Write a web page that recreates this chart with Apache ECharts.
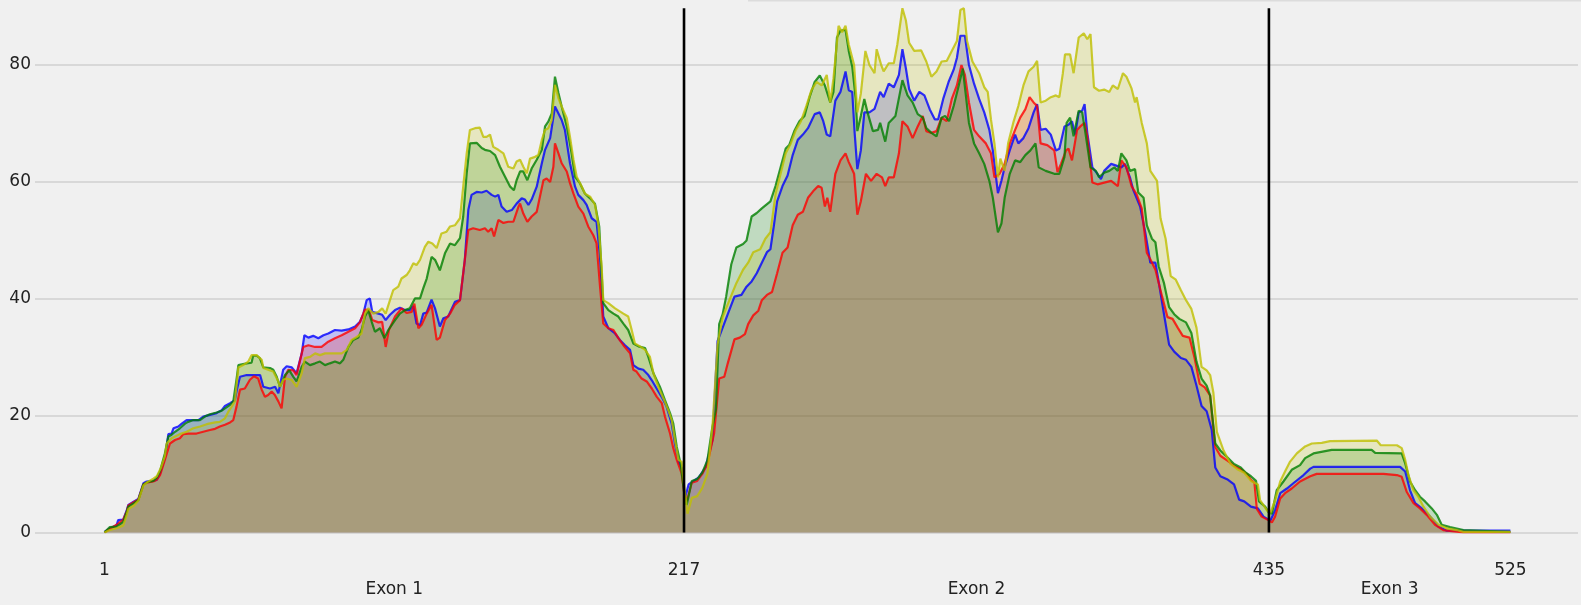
<!DOCTYPE html>
<html>
<head>
<meta charset="utf-8">
<script src="https://cdn.jsdelivr.net/npm/echarts@6/dist/echarts.min.js"></script>
<style>
html,body{margin:0;padding:0;background:#f0f0f0;}
#chart{width:1581px;height:605px;}
</style>
</head>
<body>
<div id="chart"></div>
<script>
// ---- data (position along transcript, coverage) ----
const positionTicks = [1, 217, 435, 525];
const yTicks = [0, 20, 40, 60, 80];
const exonLabels = ['Exon 1', 'Exon 2', 'Exon 3'];
const exonCenters = [109, 326, 480];
const exonBoundaries = [217, 435];
const boundaryTop = 89.6;

const blue = [[1,0.1],[3,0.7],[5.5,1.2],[6.1,2.1],[8,2.2],[9.3,3.8],[9.9,4.7],[11.7,5.2],[13.6,5.7],[15.5,8.4],[16.7,8.7],[19.2,8.8],[20.5,9.0],[21.7,10.1],[23.6,12.9],[24.8,16.8],[26,16.9],[26.7,17.8],[28.5,18.1],[29.8,18.6],[31.6,19.2],[34.1,19.2],[36,19.2],[37.8,19.8],[40.3,20.1],[42.8,20.4],[44.7,20.9],[45.9,21.6],[47.8,22.1],[49.6,22.6],[50.3,24.3],[51.5,26.6],[54,26.9],[56.5,26.9],[59,26.9],[60.2,24.9],[62.7,24.6],[64.6,24.9],[65.8,23.8],[66.4,23.5],[67.6,27.8],[68.9,28.4],[70.8,28.2],[72.6,27.2],[73.2,26.9],[74.5,30.6],[75.5,33.7],[77,33.3],[78.8,33.6],[80.7,33.2],[82.6,33.7],[84.4,34.0],[86.9,34.6],[89.4,34.5],[91.9,34.7],[94.4,35.2],[96.2,36.0],[97.5,37.4],[98.7,39.7],[99.9,40.0],[100.8,37.7],[103.1,37.4],[104.5,37.2],[105.8,36.3],[107.4,37.2],[109.3,38.0],[111.1,38.4],[113,38.0],[114.8,38.0],[116.1,38.7],[117.3,35.7],[118.6,35.4],[119.8,37.4],[121.1,37.6],[122.9,39.8],[124.2,38.3],[126,35.2],[127.3,36.6],[129.1,36.9],[131.6,39.4],[133.5,39.7],[135.3,46.6],[136.6,55.1],[137.8,57.7],[139.7,58.2],[141.6,58.1],[143.4,58.4],[145.3,57.7],[146.6,57.4],[147.8,57.7],[149,55.7],[150.9,54.8],[152.8,55.1],[154.6,56.2],[156.5,57.1],[157.7,56.9],[159,56.0],[160.2,56.9],[162.1,59.1],[164,63.1],[165.2,65.4],[167.1,67.4],[167.7,67.6],[168.9,72.8],[170.2,71.6],[171.4,70.5],[172.6,68.8],[174.5,63.1],[176.4,59.1],[177.6,57.7],[179.5,56.8],[180.7,56.0],[182.6,53.7],[184.4,53.1],[185.7,47.1],[186.9,36.9],[188.8,34.9],[191.3,34.0],[193.1,32.9],[195,32.0],[196.9,31.2],[198.1,28.6],[200,28.0],[201.8,27.8],[203.7,26.9],[205,26.0],[206.8,24.6],[209,22.9],[210.5,21.5],[212.4,18.6],[213.6,15.2],[214.9,12.1],[216.5,10.7],[217,7.5],[217.4,5.9],[218.7,8.2],[220.6,8.8],[222.5,9.4],[225,11.1],[227.6,15.8],[229.5,32.7],[231.4,35.0],[233.3,37.3],[235.8,40.3],[238.4,40.6],[240.3,42.0],[242.2,42.9],[244.1,44.3],[246,46.1],[247.9,47.9],[249.2,48.4],[250.5,52.5],[251.7,56.6],[253.7,59.2],[255.6,61.0],[257.5,64.5],[259.4,67.1],[261.3,68.0],[263.2,69.1],[265.7,71.5],[267.6,71.8],[268.9,70.3],[270.2,68.0],[271.5,67.7],[273.4,73.8],[275.3,75.3],[277.2,78.8],[278.4,75.6],[279.7,75.3],[280.6,68.3],[281.6,62.1],[282.9,65.3],[284.2,71.8],[286.1,71.8],[288,72.4],[290.1,75.3],[291.4,74.4],[293.3,76.7],[295.2,76.1],[297.1,78.2],[298.4,82.6],[299.7,79.3],[300.9,75.8],[302.8,73.8],[304.7,75.3],[306.6,74.7],[308.6,72.3],[310.5,70.6],[311.7,70.6],[313.6,74.1],[315.6,77.0],[317.5,79.1],[318.7,81.1],[320,84.9],[321.7,84.9],[323.2,79.9],[325.1,76.7],[327,74.1],[328.9,71.8],[330.8,68.8],[332.1,65.3],[334,58.0],[335.3,60.1],[336.5,62.4],[338.4,65.3],[340.4,68.0],[341.6,66.5],[343.5,67.4],[345.4,69.1],[347.3,71.8],[348.6,73.2],[349.9,68.8],[351.8,69.0],[353.7,68.0],[355.6,65.3],[356.9,65.6],[358.8,69.4],[360.3,69.7],[361.6,70.3],[362.8,68.0],[364.1,71.8],[365.4,72.1],[366.3,73.2],[367.3,68.3],[369.2,62.4],[371.1,61.3],[372.4,60.4],[373.6,61.8],[376.2,63.0],[378.1,62.7],[380,62.4],[381.3,63.0],[383.2,60.7],[384.4,58.6],[387,55.7],[388.9,51.3],[390.8,46.1],[392.7,46.1],[394,42.6],[395.9,37.3],[397.8,32.1],[399.7,30.9],[402.2,29.8],[404.1,29.5],[406.1,28.3],[408,25.1],[409.9,21.6],[411.8,20.7],[413.7,17.5],[415,11.1],[416.9,9.6],[419.4,9.1],[422,8.2],[423.9,5.6],[425.8,5.3],[428.3,4.4],[430.9,4.1],[433,2.7],[435.5,2.0],[437.3,3.8],[439.2,6.7],[441.7,7.5],[444.1,8.4],[447.9,9.8],[450.4,10.9],[451.6,11.2],[483.9,11.2],[485.8,10.4],[487.6,7.2],[489.5,5.0],[492,4.1],[495.1,2.7],[498.2,1.0],[501.3,0.3],[525,0.3]];

const red = [[1,0],[3,0.6],[5.5,1.3],[6.1,1.6],[8,2.2],[9.3,3.6],[9.9,4.6],[11.7,5.1],[13.6,5.6],[15.5,8.2],[16.7,8.5],[19.2,8.7],[20.5,9.0],[21.7,9.8],[23.5,12.4],[25.4,15.2],[27.3,15.8],[29.1,16.1],[30.4,16.8],[32.2,16.9],[35.3,16.9],[37.8,17.2],[40.3,17.5],[42.2,17.7],[44,18.1],[45.9,18.4],[47.8,18.8],[49,19.2],[50.2,21.5],[51.5,24.4],[53.3,24.6],[55.2,26.1],[56.7,26.7],[58.3,26.3],[59.6,24.4],[60.8,23.2],[62,23.5],[63.3,24.1],[64.5,23.5],[65.8,22.4],[67,21.2],[68.3,26.6],[69.5,27.8],[71.4,27.7],[72.6,26.9],[73.2,26.6],[75.1,31.7],[77,32.0],[79.5,31.7],[81.9,31.7],[84.4,32.6],[86.9,33.2],[89.4,33.7],[91.9,34.3],[94.4,34.9],[96.2,35.9],[98.1,38.1],[99.6,38.0],[100.8,36.3],[103.1,35.9],[104.5,36.0],[105.8,31.7],[107,34.6],[109.3,36.9],[111.7,38.3],[113.6,37.5],[115.5,37.7],[116.5,39.1],[118,34.9],[119.2,35.5],[121.1,37.4],[122.9,38.9],[124.8,32.9],[126,33.3],[127.9,36.3],[129.8,37.4],[131.6,38.9],[133.5,39.7],[135.3,46.6],[136.6,51.7],[138.4,52.0],[140.9,51.7],[142.8,52.0],[144,51.4],[145.3,52.0],[146.2,50.6],[147.8,53.4],[149.7,52.9],[151.5,53.1],[153.4,53.1],[155.3,55.7],[155.9,56.2],[157.1,54.5],[158.6,53.1],[160.2,54.0],[162.1,54.8],[164.6,60.2],[165.8,60.5],[167.1,59.9],[168.3,62.5],[168.9,66.5],[170.2,64.8],[171.4,63.1],[173.3,61.7],[174.5,59.7],[175.8,57.9],[177.6,55.7],[179.5,54.5],[181.3,52.3],[183.2,50.8],[184.4,49.4],[185.7,42.0],[186.9,35.7],[188.8,34.9],[190.7,34.6],[192.5,33.2],[194.4,32.0],[196.9,30.6],[198.1,27.8],[199.3,27.5],[201.2,26.3],[203.1,25.8],[205,24.6],[206.8,23.2],[208.7,22.1],[209.9,19.8],[211.8,16.9],[213,14.4],[214.3,12.4],[216.1,10.1],[217,7.0],[218,5.3],[219.9,8.5],[221.9,8.8],[223.8,10.0],[225.7,11.7],[228.2,16.9],[230.1,26.3],[232,26.6],[233.3,28.9],[235.8,33.0],[237.8,33.3],[239.7,33.9],[240.9,35.6],[242.8,37.1],[244.7,37.9],[246,39.7],[247.9,40.6],[249.8,41.1],[251.7,44.3],[253.7,47.8],[255.6,48.7],[257.5,52.5],[259.4,54.3],[261.3,54.8],[263.2,57.2],[265.1,58.3],[267,59.2],[268.3,58.9],[269.5,55.7],[270.4,57.2],[271.5,54.8],[273.4,61.3],[275.3,63.6],[277.2,64.8],[278.4,63.3],[280.4,61.3],[281.6,54.3],[282.9,56.6],[284.8,61.3],[286.7,60.1],[288.8,61.3],[290.8,60.7],[292,59.2],[293.3,60.7],[295.2,60.7],[297.1,64.8],[298.4,70.3],[300.3,69.4],[302.2,67.4],[304.1,69.4],[306,71.2],[307.3,68.6],[309.2,68.3],[311.1,68.6],[313,70.9],[314.9,70.3],[316.8,74.1],[318.7,76.4],[320.4,79.9],[321.7,78.2],[323.2,73.5],[325.1,68.8],[327,67.7],[329.5,66.5],[331.4,64.8],[332.7,60.7],[334.6,61.3],[336.5,63.0],[338.4,66.5],[340.4,68.8],[342.3,70.9],[344.2,72.3],[345.8,74.4],[347.3,73.5],[348.6,72.9],[349.9,66.5],[352.4,66.2],[355,65.3],[356.2,61.6],[357.5,63.0],[359.4,65.3],[360.3,65.6],[361.6,63.6],[363.5,68.8],[364.7,69.4],[366.3,70.0],[367.3,67.7],[369.2,59.8],[371.1,59.5],[373.6,59.8],[376.2,60.1],[378.7,59.2],[380,63.6],[381.9,62.4],[383.8,59.2],[385.7,57.8],[387.6,55.4],[389.5,47.8],[390.8,46.7],[392.7,44.9],[395.2,40.3],[397.2,36.8],[399.1,36.5],[401,35.0],[402.9,33.6],[405.4,33.3],[407.3,29.8],[409.2,25.4],[411.1,24.8],[413.1,23.4],[415,14.6],[416.9,13.1],[419.4,12.3],[422,11.4],[424.5,10.8],[427,9.9],[428.3,9.0],[429.6,8.5],[430.5,4.0],[432.3,2.7],[434.8,2.1],[436.1,1.7],[437.3,2.7],[439.2,5.8],[441,6.7],[443.5,7.5],[446.6,8.7],[450.4,9.6],[452.8,10.0],[477.7,10.0],[482.7,9.8],[484.5,9.5],[486.4,6.9],[488.9,5.0],[491.3,4.1],[493.8,3.0],[496.9,1.3],[500,0.4],[507.5,0.0],[525,0.0]];

const green = [[1,0],[3,0.9],[5.5,1.0],[8,1.8],[9.3,3.5],[9.9,4.4],[12,5.0],[13.6,5.5],[15.5,8.2],[17,8.6],[19.2,8.8],[20.5,9.4],[21.7,10.5],[23.5,13.5],[24.8,16.4],[26,16.7],[27.3,17.2],[29.1,17.8],[31,18.6],[32.2,18.9],[34.1,19.2],[36.6,19.2],[38.4,19.8],[40.3,20.2],[42.8,20.5],[44.7,20.8],[45.9,21.2],[47.8,21.8],[49,22.4],[50.2,26.1],[50.9,28.6],[54,28.9],[55.8,29.0],[56.4,30.2],[57.7,30.2],[58.9,29.8],[60.2,28.2],[62.7,28.1],[63.9,27.8],[65.2,26.6],[66.4,24.9],[67,25.5],[68.3,26.9],[69.9,27.7],[71.4,26.6],[72.6,25.8],[73.2,25.5],[74.5,28.3],[75.7,29.2],[77.6,28.6],[79.5,28.9],[81.3,29.2],[83.2,28.6],[85,28.9],[86.9,29.2],[88.8,28.9],[90,29.5],[91.9,31.7],[93.7,32.9],[95.6,33.3],[96.8,34.6],[98.1,36.9],[99.3,38.0],[100.6,36.0],[101.8,34.3],[103.7,34.9],[105.3,33.2],[106.8,34.6],[109.3,36.3],[111.1,37.4],[113,38.0],[114.8,38.3],[116.7,40.0],[118.6,40.0],[119.8,41.7],[121.1,43.4],[122.9,47.1],[124.2,46.6],[126,44.8],[127.9,47.7],[129.8,49.4],[131.6,49.1],[133.5,50.3],[134.7,54.0],[136,61.4],[137.2,66.5],[139.7,66.6],[141.6,65.7],[142.8,65.4],[144.7,65.2],[146.6,64.5],[148.4,62.5],[150.3,60.8],[152.2,59.1],[153.6,58.5],[154.6,60.2],[155.9,61.7],[157.1,61.7],[158.6,60.2],[160.2,62.2],[162.1,63.7],[164,65.4],[165.2,69.4],[166.4,70.2],[167.7,71.6],[168.9,77.9],[170.2,75.1],[171.4,72.8],[173.3,69.4],[175.1,64.8],[176.4,60.8],[178.2,59.7],[180.1,57.9],[182,57.1],[183.8,56.2],[185.4,52.3],[186.3,44.3],[186.9,39.2],[188.8,38.0],[190.7,37.4],[192.5,36.9],[194.4,35.7],[196.2,34.6],[198.1,32.3],[200,31.8],[202.5,31.5],[203.7,30.0],[205.6,27.2],[208,24.9],[209.9,22.6],[211.8,20.4],[213,18.6],[214.3,14.6],[215.7,11.8],[217,7.0],[218,4.7],[219.9,8.8],[221.9,9.1],[223.8,10.2],[225.7,12.3],[227.6,18.1],[228.9,21.0],[230.1,35.6],[231.4,37.3],[232.7,40.3],[234.6,45.8],[236.5,48.7],[239,49.3],[240.3,49.9],[242.2,54.0],[244.1,54.6],[246,55.4],[249.2,56.6],[251.1,59.2],[253,62.4],[254.9,65.6],[256.2,66.2],[258.1,68.6],[260,70.3],[261.9,71.2],[263.8,74.4],[265.7,77.0],[267.6,78.1],[269.5,76.4],[271.5,73.5],[272.7,75.3],[274,84.6],[275.3,85.8],[277.2,85.9],[278.4,82.3],[279.7,79.6],[281,74.1],[281.6,68.6],[282.9,71.2],[284.2,74.1],[285.4,71.8],[287.4,68.6],[289.3,68.8],[290.1,70.0],[292,66.8],[293.3,70.0],[295.8,71.2],[298.4,77.3],[300.3,74.7],[302.2,73.5],[304.1,71.5],[306,70.9],[307.3,69.1],[309.2,68.3],[311.1,67.7],[313,70.9],[314.3,71.2],[315.8,70.3],[317.5,72.9],[319.4,76.4],[320.9,79.3],[321.9,75.3],[323.2,70.0],[325.1,66.5],[327,64.8],[328.9,63.0],[330.8,60.1],[332.1,57.2],[334,51.3],[335.3,52.8],[336.5,57.2],[338.4,61.3],[340.4,63.6],[342.3,63.3],[344.2,64.5],[346.1,65.3],[348,66.5],[349.2,62.4],[351.8,61.8],[355,61.3],[356.9,61.3],[358.8,64.2],[359.6,70.0],[360.9,70.9],[362.2,67.7],[364.1,72.1],[365.4,71.8],[366.6,68.3],[368.5,62.4],[370.5,61.8],[371.7,60.7],[373.6,61.5],[375.5,61.8],[377.4,62.4],[378.7,61.8],[380,64.8],[381.9,63.6],[383.2,61.8],[385.1,62.1],[386.3,58.1],[388.3,57.2],[389.5,52.5],[391.4,50.2],[392.7,49.6],[393.9,45.5],[395.9,42.6],[397.8,38.5],[399.7,37.3],[401.6,36.5],[404.1,35.9],[406.1,34.1],[408,29.2],[409.9,26.3],[411.8,25.1],[413.1,23.4],[415,15.2],[416.9,14.0],[419.4,12.9],[422,11.7],[424.5,11.1],[426.4,10.2],[428.3,9.6],[430.2,8.8],[431.3,5.3],[433.6,4.4],[434.8,3.5],[436.1,3.2],[437.9,7.2],[440.4,8.7],[443.5,10.7],[446.6,11.5],[448.5,12.7],[451.6,13.5],[458.4,14.1],[473.3,14.1],[474.6,13.6],[484.5,13.5],[485.8,11.8],[487.6,8.7],[489.5,7.2],[491.3,6.1],[493.2,5.3],[495.7,4.1],[497.6,3.0],[499.4,1.3],[502.5,0.9],[507.5,0.4],[525,0.1]];

const yellow = [[1,0],[3,0.4],[5.5,0.7],[8,1.2],[9.3,3.0],[9.9,4.0],[12,4.6],[13.6,5.4],[15.5,8.0],[17,8.6],[19.2,9.2],[20.5,9.6],[22,11.0],[23.5,13.0],[24.2,15.2],[26,16.1],[29.1,16.8],[31.6,17.2],[34.1,17.8],[36.6,18.1],[39.1,18.5],[42.2,18.8],[44,18.9],[45.9,19.5],[47.1,20.6],[48.4,21.5],[49.6,22.4],[50.9,28.2],[52.7,28.6],[54.6,29.2],[55.8,30.3],[57.7,30.3],[59.6,29.5],[60.2,28.1],[62.7,27.7],[63.9,27.5],[65.8,25.8],[66.4,24.9],[67.6,26.1],[68.9,26.3],[70.7,26.1],[72.6,24.9],[73.2,24.6],[74.5,27.2],[75.7,29.8],[77.6,30.0],[79.5,30.6],[81.3,30.3],[83.2,30.6],[89.4,30.6],[91.3,31.2],[93.1,32.9],[95,33.4],[96.8,34.0],[98.1,37.4],[99.3,38.3],[101.2,37.4],[103.1,37.7],[104.5,38.3],[105.8,37.4],[107.4,39.7],[108.6,41.4],[110.5,42.0],[111.7,43.4],[113.6,44.0],[114.8,44.8],[116.1,46.0],[117.3,45.7],[118.6,46.6],[120.4,48.8],[121.7,49.7],[123.2,49.4],[124.8,48.6],[126.6,51.1],[128.5,51.4],[129.8,52.3],[131.6,52.5],[133.5,53.7],[134.7,59.1],[136,64.8],[137.2,68.8],[139.1,69.1],[140.9,69.2],[142.2,67.6],[143.4,67.6],[144.7,68.0],[145.9,65.9],[147.8,65.4],[149.7,64.8],[151.5,62.5],[153.4,62.2],[154.6,63.4],[155.9,63.7],[157.1,62.5],[158.4,61.4],[159.6,63.9],[161.5,64.2],[162.7,64.5],[164,67.1],[165.2,68.8],[166.4,69.1],[167.7,70.5],[168.9,76.5],[170.2,74.2],[171.4,72.8],[173.3,70.8],[174.5,67.6],[175.8,63.7],[177,60.8],[178.9,59.1],[180.1,57.9],[182,57.4],[183.8,56.0],[185.1,52.5],[186.3,45.4],[186.9,39.7],[188.8,39.2],[191.3,38.3],[194.4,37.4],[196.2,36.9],[197.5,34.6],[198.7,32.3],[200.6,31.8],[202.5,31.2],[204.3,30.0],[205.6,27.2],[207.4,24.9],[209.3,22.9],[211.1,20.9],[212.4,19.2],[213.6,15.8],[214.9,12.4],[216.1,12.1],[217,8.2],[218.3,3.2],[219.9,5.9],[221.9,6.2],[223.8,7.6],[225.7,10.0],[227.6,18.1],[229.5,32.1],[231.4,36.8],[233.9,39.7],[236.5,42.6],[239,44.9],[240.9,46.1],[242.8,47.9],[245.4,48.4],[247.3,50.2],[249.2,51.3],[251.1,57.8],[253,61.3],[254.9,64.8],[256.8,66.5],[258.7,68.8],[260.6,70.3],[262.6,72.9],[264.5,75.6],[266.4,77.0],[268.3,76.4],[270.2,78.2],[271.5,73.5],[272.7,77.6],[274.6,86.6],[275.9,85.5],[277.2,86.6],[278.4,83.4],[280.4,79.9],[281.6,71.8],[282.9,75.0],[284.6,82.3],[286.1,79.9],[288,78.5],[288.8,82.6],[290.5,79.9],[291.4,78.8],[293.3,80.2],[295.2,80.2],[296.5,83.4],[298.4,89.6],[299.7,87.5],[300.9,83.7],[302.8,82.3],[305.4,82.4],[307.3,80.5],[309.2,77.9],[311.1,78.8],[313,80.5],[314.9,80.6],[316.8,82.3],[318.7,84.0],[320,89.3],[321.3,89.6],[322.5,84.0],[324.5,80.5],[327,78.5],[328.9,76.1],[330.2,75.3],[331.4,70.6],[332.7,66.5],[334,60.7],[334.9,63.9],[336.5,61.8],[337.8,66.5],[339.7,70.0],[341.6,72.9],[343.5,76.4],[345.4,78.8],[347.3,79.6],[348.6,80.6],[349.9,73.5],[351.8,73.8],[353.7,74.4],[355.6,74.7],[356.9,74.4],[358.2,78.5],[359,81.7],[360.9,81.7],[362.2,78.5],[364.1,84.6],[366,85.3],[367.3,84.3],[368.5,85.2],[369.8,76.1],[371.7,75.5],[373.6,75.7],[375.5,75.3],[376.8,76.4],[378.7,75.8],[380.6,78.5],[381.9,77.9],[383.8,75.9],[385.1,73.5],[385.7,74.4],[387.6,70.0],[389.5,66.5],[390.8,61.8],[393.3,60.1],[394.6,53.7],[396.5,50.2],[398.4,43.8],[400.3,43.2],[402.2,41.4],[404.1,39.7],[406.1,38.2],[408,35.0],[409.9,28.3],[411.8,27.7],[413.1,26.9],[414.3,23.9],[415.6,17.2],[418.1,14.0],[420.7,11.7],[423.2,10.8],[425.8,10.2],[428.3,8.8],[430.9,8.2],[431.7,5.5],[434.2,3.8],[435.5,3.3],[437.3,5.5],[439.2,8.7],[441,10.4],[442.9,12.1],[445.4,13.5],[448.5,14.7],[451,15.2],[454.7,15.3],[457.8,15.6],[475.2,15.7],[476.7,14.9],[482.7,14.9],[484.5,14.4],[485.8,12.4],[487,9.8],[488.9,7.2],[490.7,6.1],[492.6,4.4],[495.1,2.7],[498.2,1.3],[501.3,0.7],[505,0.4],[507.5,0.1],[525,0.1]];

// ---- chart ----
const FONT = 'DejaVu Sans';
const seriesDefs = [
  { name: 'blue',   data: blue,   rgb: '0,0,255' },
  { name: 'red',    data: red,    rgb: '255,0,0' },
  { name: 'green',  data: green,  rgb: '0,128,0' },
  { name: 'yellow', data: yellow, rgb: '191,191,0' }
];

const series = seriesDefs.map(d => ({
  name: d.name,
  type: 'line',
  data: d.data,
  showSymbol: false,
  symbol: 'none',
  smooth: false,
  silent: true,
  lineStyle: { color: 'rgba(' + d.rgb + ',0.8)', width: 2.2 },
  areaStyle: { color: 'rgba(' + d.rgb + ',0.2)', opacity: 1, origin: 'start' },
  z: 2
}));

exonBoundaries.forEach(b => {
  series.push({
    type: 'line',
    data: [[b, 0], [b, boundaryTop]],
    showSymbol: false,
    symbol: 'none',
    silent: true,
    lineStyle: { color: '#000000', width: 2.6 },
    z: 5
  });
});

const chart = echarts.init(document.getElementById('chart'), null, { renderer: 'canvas' });
chart.setOption({
  animation: false,
  backgroundColor: '#f0f0f0',
  grid: { left: 35, right: 3, top: 0, bottom: 72.6, containLabel: false, outerBoundsMode: 'none' },
  xAxis: [
    {
      type: 'value', min: -24.9, max: 550.2,
      axisLine: { show: false }, axisTick: { show: false }, splitLine: { show: false },
      axisLabel: { customValues: positionTicks, margin: 30, fontSize: 17, color: '#222', fontFamily: FONT }
    },
    {
      type: 'value', min: -24.9, max: 550.2, position: 'bottom',
      axisLine: { show: false }, axisTick: { show: false }, splitLine: { show: false },
      axisLabel: {
        customValues: exonCenters, margin: 49, fontSize: 17, color: '#222', fontFamily: FONT,
        formatter: v => exonLabels[exonCenters.indexOf(v)]
      }
    }
  ],
  yAxis: {
    type: 'value', min: 0, max: 91.01, interval: 20,
    axisLine: { show: false },
    axisTick: { show: false, customValues: yTicks },
    axisLabel: { customValues: yTicks, margin: 4, fontSize: 17, color: '#222', fontFamily: FONT },
    splitLine: { show: true, lineStyle: { color: '#d0d0d0', width: 1.5 } }
  },
  graphic: [{
    type: 'line', silent: true,
    shape: { x1: 748, y1: 0.8, x2: 1581, y2: 0.8 },
    style: { stroke: '#dcdcdc', lineWidth: 1.5 }
  }],
  series: series
});
</script>
</body>
</html>
